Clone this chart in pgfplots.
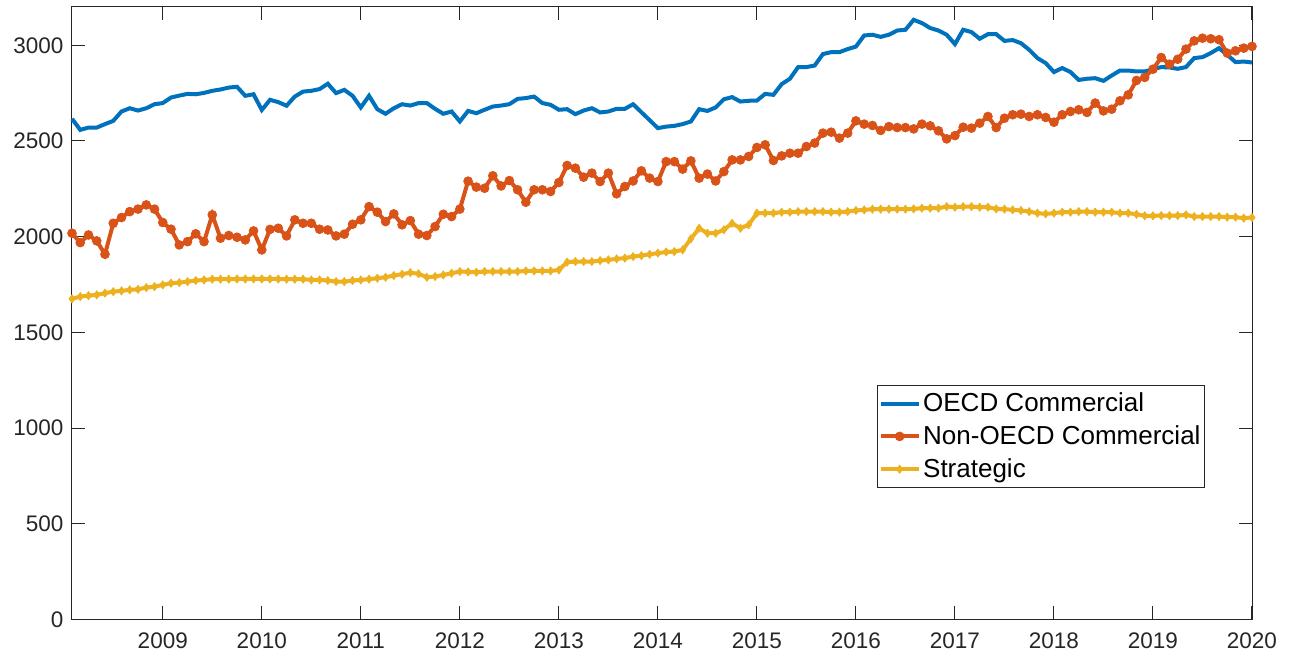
\documentclass[border=0pt]{standalone}
\usepackage{pgfplots}
\pgfplotsset{compat=1.18}
\usepackage{pgfplotstable}
\usepackage{fontspec}
\setmainfont{Liberation Sans}
\definecolor{mblue}{HTML}{0072BD}
\definecolor{morange}{HTML}{D95319}
\definecolor{myellow}{HTML}{EDB120}
\definecolor{axc}{HTML}{262626}
\pgfplotstableread{
k o n s
0 2616 2018 1675
1 2558 1969 1687
2 2570 2009 1692
3 2570 1978 1696
4 2588 1908 1705
5 2605 2070 1713
6 2654 2100 1717
7 2671 2131 1722
8 2659 2144 1725
9 2671 2166 1734
10 2692 2144 1739
11 2698 2074 1748
12 2727 2039 1757
13 2737 1957 1760
14 2746 1974 1765
15 2744 2015 1771
16 2751 1974 1774
17 2762 2114 1778
18 2769 1992 1778
19 2779 2006 1778
20 2783 1997 1779
21 2736 1983 1779
22 2744 2030 1779
23 2662 1931 1779
24 2715 2038 1779
25 2703 2044 1779
26 2684 2004 1778
27 2732 2088 1778
28 2758 2070 1778
29 2762 2070 1774
30 2771 2039 1774
31 2799 2035 1771
32 2750 2004 1765
33 2767 2013 1765
34 2736 2065 1771
35 2675 2088 1774
36 2736 2157 1778
37 2666 2128 1783
38 2642 2079 1788
39 2671 2119 1797
40 2692 2062 1804
41 2685 2084 1812
42 2698 2013 1806
43 2698 2006 1788
44 2668 2053 1792
45 2642 2117 1800
46 2654 2105 1809
47 2602 2144 1818
48 2657 2290 1816
49 2645 2259 1814
50 2663 2253 1818
51 2680 2318 1818
52 2685 2265 1818
53 2692 2293 1818
54 2720 2245 1818
55 2724 2180 1821
56 2732 2245 1821
57 2698 2245 1821
58 2689 2236 1821
59 2663 2283 1826
60 2666 2372 1867
61 2640 2358 1870
62 2659 2311 1870
63 2671 2332 1870
64 2649 2288 1875
65 2654 2332 1879
66 2668 2224 1884
67 2668 2262 1888
68 2692 2291 1896
69 2650 2344 1901
70 2609 2306 1908
71 2567 2288 1914
72 2575 2392 1920
73 2579 2392 1922
74 2588 2353 1931
75 2602 2396 1989
76 2666 2306 2044
77 2657 2327 2018
78 2675 2291 2018
79 2718 2340 2036
80 2729 2401 2070
81 2706 2401 2044
82 2710 2419 2062
83 2711 2466 2123
84 2746 2480 2123
85 2741 2398 2123
86 2797 2422 2128
87 2825 2436 2128
88 2886 2436 2131
89 2886 2471 2131
90 2894 2489 2131
91 2954 2541 2131
92 2964 2546 2128
93 2964 2515 2128
94 2980 2541 2131
95 2993 2605 2137
96 3051 2588 2140
97 3055 2581 2144
98 3044 2555 2144
99 3055 2575 2144
100 3077 2570 2144
101 3081 2570 2144
102 3133 2563 2145
103 3116 2588 2149
104 3090 2579 2149
105 3077 2553 2149
106 3055 2511 2157
107 3006 2528 2154
108 3081 2572 2157
109 3069 2567 2157
110 3034 2593 2154
111 3058 2628 2154
112 3058 2570 2145
113 3023 2619 2144
114 3027 2637 2140
115 3011 2640 2137
116 2976 2628 2131
117 2933 2637 2123
118 2907 2623 2119
119 2860 2598 2123
120 2881 2637 2128
121 2860 2654 2128
122 2819 2663 2131
123 2825 2649 2131
124 2828 2698 2128
125 2814 2657 2128
126 2842 2666 2128
127 2868 2710 2123
128 2868 2741 2123
129 2863 2816 2117
130 2863 2832 2109
131 2875 2875 2109
132 2886 2936 2110
133 2884 2901 2110
134 2877 2927 2110
135 2886 2980 2114
136 2933 3023 2105
137 2938 3037 2105
138 2959 3034 2105
139 2985 3029 2105
140 2950 2959 2102
141 2912 2971 2102
142 2915 2985 2097
143 2910 2994 2100
}\data
\begin{document}
\begin{tikzpicture}
\begin{axis}[name=ax, scale only axis, width=590pt, height=306.25pt,
 xmin=2008.0833, xmax=2020, ymin=0, ymax=3200,
 xtick={2009,2010,...,2020}, ytick={0,500,...,3000},
 tick align=inside, major tick length=6.5pt,
 axis line style={axc, line width=0.5pt},
 every tick/.style={axc, line width=0.5pt},
 tick label style={font=\fontsize{11.25}{13}\selectfont, text=axc},
 /pgf/number format/assume math mode=true,
 /pgf/number format/1000 sep={},
 xticklabel style={yshift=-3pt},
 yticklabel style={xshift=-0.75pt},
 clip=false,
 legend style={at={(0.9602,0.2147)}, anchor=south east, draw=axc, line width=0.5pt,
   font=\fontsize{13}{15}\selectfont, inner xsep=0.75pt, inner ysep=2.4pt,
   nodes={inner sep=1.25pt}, row sep=3pt},
 legend cell align=left,
 legend image code/.code={\draw[mark repeat=2,mark phase=2,#1] plot coordinates {(-1.5pt,0pt) (8pt,0pt) (17.5pt,0pt)};},
]
\addplot[mblue, line width=2pt, no markers] table[x expr=2008+(\thisrow{k}+1)/12, y=o] {\data};
\addplot[morange, line width=2pt, mark=*, mark size=2.2pt, mark options={solid, line width=0.4pt, fill=morange}] table[x expr=2008+(\thisrow{k}+1)/12, y=n] {\data};
\addplot[myellow, line width=2pt, mark=diamond*, mark size=2pt, mark options={solid, line width=0.4pt, fill=myellow}] table[x expr=2008+(\thisrow{k}+1)/12, y=s] {\data};
\legend{OECD Commercial, Non-OECD Commercial, Strategic}
\end{axis}
\pgfresetboundingbox
\path ([xshift=-36pt,yshift=-18.25pt]ax.south west) rectangle ([xshift=19pt,yshift=3.5pt]ax.north east);
\end{tikzpicture}
\end{document}
